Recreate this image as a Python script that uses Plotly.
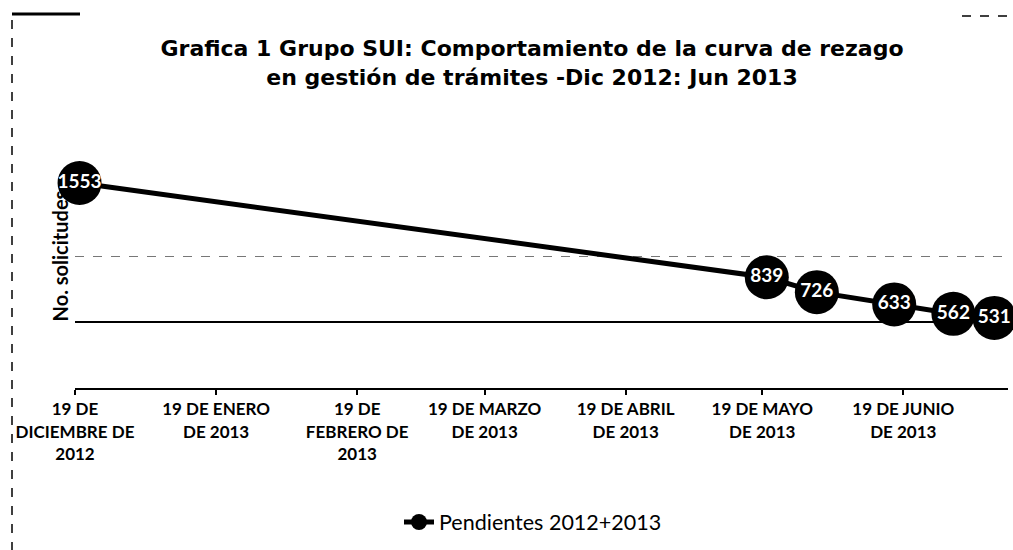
import plotly.graph_objects as go

# ---- data ----
dates = ["2012-12-20", "2013-05-20", "2013-05-31", "2013-06-17", "2013-06-30", "2013-07-09"]
pendientes = [1553, 839, 726, 633, 562, 531]
series_name = "Pendientes 2012+2013"

tick_dates = ["2012-12-19", "2013-01-19", "2013-02-19", "2013-03-19",
              "2013-04-19", "2013-05-19", "2013-06-19"]
tick_labels = ["19 DE<br>DICIEMBRE DE<br>2012", "19 DE ENERO<br>DE 2013",
               "19 DE<br>FEBRERO DE<br>2013", "19 DE MARZO<br>DE 2013",
               "19 DE ABRIL<br>DE 2013", "19 DE MAYO<br>DE 2013",
               "19 DE JUNIO<br>DE 2013"]

title_text = ("Grafica 1 Grupo SUI: Comportamiento de la curva de rezago<br>"
              "en gestión de trámites -Dic 2012: Jun 2013")
y_title = "No. solicitudes"

# ---- layout geometry ----
W, H = 1013, 550
L, R, T, B = 75, 5, 124, 162
PW, PH = W - L - R, H - T - B


def px(xp):
    return (xp - L) / PW


def py(yp):
    return (H - B - yp) / PH


fig = go.Figure()
fig.add_trace(go.Scatter(
    x=dates, y=pendientes, name=series_name,
    mode="lines+markers+text",
    line=dict(color="black", width=5),
    marker=dict(color="black", size=44),
    text=[str(v) for v in pendientes],
    textposition="middle center",
    textfont=dict(family="Lato", size=19, color="white", weight="bold"),
    cliponaxis=False,
))

shapes = [
    dict(type="line", xref="paper", yref="paper", x0=px(12), x1=px(12), y0=py(20), y1=py(550),
         line=dict(color="black", width=1.5, dash="dash")),
    dict(type="line", xref="paper", yref="paper", x0=px(12), x1=px(80), y0=py(14), y1=py(14),
         line=dict(color="black", width=3)),
    dict(type="line", xref="paper", yref="paper", x0=px(962), x1=px(1013), y0=py(16), y1=py(16),
         line=dict(color="black", width=1.5, dash="dash")),
]

fig.update_layout(
    width=W, height=H,
    margin=dict(l=L, r=R, t=T, b=B),
    paper_bgcolor="white", plot_bgcolor="white",
    template="none",
    title=dict(text=title_text, x=532 / W, xanchor="center", y=1 - 56 / H, yanchor="middle",
               font=dict(family="DejaVu Sans", size=22, color="black", weight="bold")),
    xaxis=dict(
        type="date", range=["2012-12-19", "2013-07-12"],
        tickmode="array", tickvals=tick_dates, ticktext=tick_labels,
        tickangle=0,
        showline=True, linecolor="black", linewidth=2,
        ticks="outside", ticklen=5, tickcolor="black", tickwidth=1.5,
        showgrid=False, zeroline=False, automargin=False,
        tickfont=dict(family="Lato", size=17, color="black", weight="bold"),
    ),
    yaxis=dict(
        range=[0, 2000],
        tickmode="array", tickvals=[500], showticklabels=False,
        showgrid=True, gridcolor="black", gridwidth=1.5,
        minor=dict(tickmode="array", tickvals=[1000], showgrid=True,
                   gridcolor="#777777", gridwidth=1, griddash="dash"),
        showline=False, zeroline=False, ticks="", automargin=False,
        title=dict(text=y_title, standoff=0,
                   font=dict(family="Lato", size=20, color="black", weight="bold")),
    ),
    showlegend=True,
    legend=dict(orientation="h", x=px(533), xanchor="center", y=py(522), yanchor="middle",
                font=dict(family="Lato", size=21.5, color="black"),
                bgcolor="rgba(0,0,0,0)"),
    shapes=shapes,
)

fig.write_html("out.html", config={"displayModeBar": False},
               post_script="document.body.style.margin='0';")
